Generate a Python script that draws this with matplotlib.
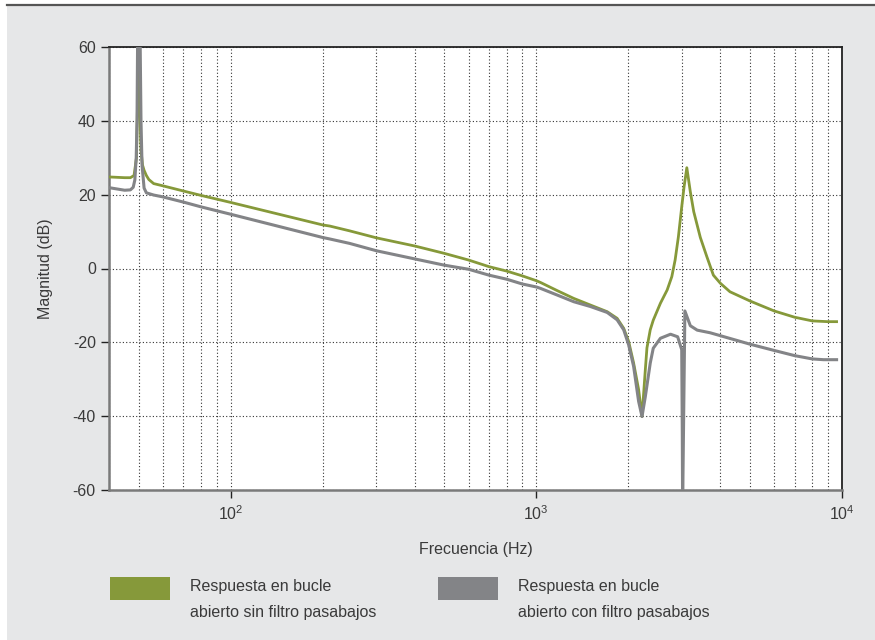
import matplotlib
matplotlib.use("Agg")
import matplotlib.pyplot as plt
from matplotlib.patches import Rectangle
from matplotlib.lines import Line2D

plt.rcParams['font.family'] = ['Liberation Sans', 'DejaVu Sans']
plt.rcParams['mathtext.fontset'] = 'custom'
plt.rcParams['mathtext.rm'] = 'Liberation Sans'
plt.rcParams['mathtext.default'] = 'regular'

# open loop response without low-pass filter (green)
freq_sin = [40, 45, 47, 48.3, 49.2, 49.6, 50.0, 50.4, 50.9, 51.5, 52.1, 53, 54, 56, 60,
            70, 80, 100, 200, 211, 245, 300, 400, 500, 600, 700, 800, 900, 1000,
            1033, 1171, 1326, 1503, 1705, 1838, 1931, 2005, 2081, 2161, 2217,
            2273, 2301, 2359, 2413, 2547, 2680, 2775, 2845, 2916, 2990, 3043, 3107,
            3190, 3273, 3440, 3613, 3795, 4000, 4300, 5000, 6000, 7000, 8000, 9000, 9600]
mag_sin = [24.8, 24.6, 24.6, 25.2, 30, 45, 70, 45, 32, 28, 26.6, 25.2, 24.1, 23.0, 22.4,
           21.0, 19.8, 17.9, 11.8, 11.5, 10.2, 8.3, 6.1, 4.1, 2.3, 0.5, -0.7, -2.0, -3.3,
           -3.8, -6.0, -8.1, -9.9, -11.7, -13.5, -16.2, -19.8, -25.6, -32.8, -40.1,
           -27.4, -21.5, -16.6, -14.0, -9.4, -5.8, -2.2, 2.3, 8.6, 16.7, 22.1, 27.3,
           20.8, 15.4, 8.4, 3.2, -1.8, -4.0, -6.3, -8.8, -11.5, -13.2, -14.2, -14.4, -14.4]

# open loop response with low-pass filter (gray)
freq_con = [40, 45, 47, 48.0, 48.6, 49.1, 49.4, 49.6, 49.8, 50.4, 50.6, 50.9, 51.3, 52.1,
            53, 56, 60, 70, 80, 100, 200, 211, 245, 300, 400, 500, 600, 700, 800, 900,
            1000, 1033, 1171, 1326, 1503, 1705, 1838, 1931, 2005, 2081, 2161, 2217,
            2273, 2359, 2413, 2547, 2748, 2900, 2990, 3003, 3010, 3062, 3190, 3360,
            3700, 4000, 5000, 6000, 7000, 8000, 8700, 9600]
mag_con = [21.9, 21.2, 21.3, 22.0, 24, 30, 40, 60, 75, 75, 60, 40, 28, 21.8,
           20.5, 19.9, 19.4, 18.0, 16.7, 14.7, 8.4, 8.0, 6.8, 4.8, 2.6, 0.9, -0.2, -1.8, -2.9, -4.2,
           -5.0, -5.4, -7.2, -9.0, -10.3, -11.9, -13.9, -16.6, -20.7, -26.5, -36.0, -40.1,
           -34.7, -25.6, -21.6, -18.9, -17.8, -18.5, -22.0, -45, -65, -11.5, -15.5, -16.7,
           -17.4, -18.2, -20.5, -22.2, -23.6, -24.5, -24.7, -24.7]

y_ticks = [-60, -40, -20, 0, 20, 40, 60]
labels = ["Respuesta en bucle\nabierto sin filtro pasabajos",
          "Respuesta en bucle\nabierto con filtro pasabajos"]

green = '#86993a'
gray = '#838487'
text_col = '#3a3a3a'
fs = 11.5

fig = plt.figure(figsize=(8.75, 6.4), dpi=100)
fig.patch.set_facecolor('white')
fig.patches.append(Rectangle((7 / 875, 0), 868 / 875, 635 / 640, transform=fig.transFigure,
                             facecolor='#e6e7e8', edgecolor='none', zorder=-10))
fig.lines.append(Line2D([7 / 875, 1], [635 / 640, 635 / 640], transform=fig.transFigure,
                        color='#555555', linewidth=1.6))

ax = fig.add_axes([109 / 875, 1 - 490 / 640, (842 - 109) / 875, (490 - 47) / 640])
ax.set_facecolor('white')

ax.plot(freq_sin, mag_sin, color=green, linewidth=2.0, zorder=3)
ax.plot(freq_con, mag_con, color=gray, linewidth=2.2, zorder=4)

ax.set_xscale('log')
ax.set_xlim(40, 10000)
ax.set_ylim(-60, 60)
ax.set_yticks(y_ticks)
ax.set_yticklabels([str(v) for v in y_ticks])

ax.grid(True, which='both', axis='x', linestyle=(0, (1, 2)), color='#333333', linewidth=0.8)
ax.grid(True, which='major', axis='y', linestyle=(0, (1, 2)), color='#333333', linewidth=0.8)
ax.set_axisbelow(True)

ax.tick_params(axis='both', which='major', direction='out', length=6, width=1,
               color='#222222', labelsize=fs, labelcolor=text_col)
ax.tick_params(axis='x', which='major', pad=4)
ax.tick_params(axis='x', which='minor', length=0)

for side in ['top', 'right']:
    ax.spines[side].set_color('#222222')
    ax.spines[side].set_linewidth(1.3)
for side in ['left', 'bottom']:
    ax.spines[side].set_color('#7a7a7a')
    ax.spines[side].set_linewidth(1.8)

ax.set_ylabel("Magnitud (dB)", fontsize=fs, color=text_col, labelpad=14)
ax.set_xlabel("Frecuencia (Hz)", fontsize=fs, color=text_col, labelpad=14)

# legend drawn by hand below the axes
for i, (col, lab) in enumerate(zip([green, gray], labels)):
    x0 = [110, 438][i]
    fig.patches.append(Rectangle((x0 / 875, 1 - 600 / 640), 60 / 875, 23 / 640,
                                 transform=fig.transFigure, facecolor=col, edgecolor='none'))
    l1, l2 = lab.split('\n')
    fig.text((x0 + 80) / 875, 1 - 586 / 640, l1, fontsize=fs, color=text_col, va='center')
    fig.text((x0 + 80) / 875, 1 - 612 / 640, l2, fontsize=fs, color=text_col, va='center')

fig.savefig('out.png', dpi=100)
